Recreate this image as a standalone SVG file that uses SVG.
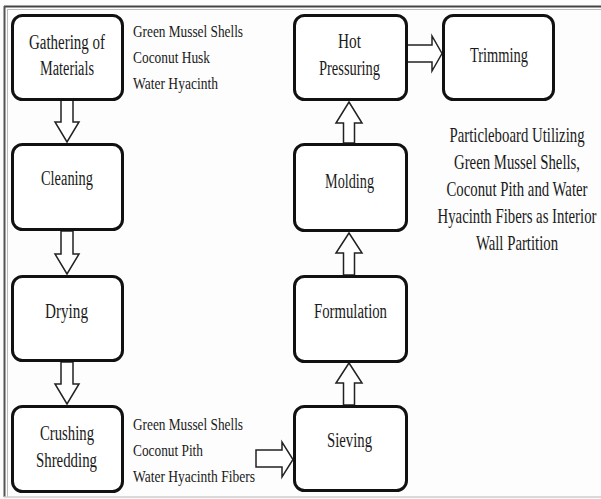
<svg xmlns="http://www.w3.org/2000/svg" width="601" height="499" viewBox="0 0 601 499">
<style>
.box{fill:#fff;stroke:#111;stroke-width:3}
.arr{fill:#fff;stroke:#222;stroke-width:1.5;stroke-linejoin:miter}
text{font-family:"Liberation Serif","Times New Roman",serif;fill:#1a1a1a}
.lb{font-size:20px}
.sd{font-size:16px}
.cp{font-size:20px;text-anchor:middle}
</style>
<rect x="0" y="0" width="601" height="499" fill="#fdfdfd"/>
<g id="frame">
<line x1="4" y1="6.5" x2="601" y2="6.5" stroke="#444" stroke-width="2"/>
<line x1="7" y1="9.5" x2="601" y2="9.5" stroke="#bbb" stroke-width="1"/>
<line x1="4.5" y1="6" x2="4.5" y2="497" stroke="#555" stroke-width="2"/>
<line x1="7.5" y1="9" x2="7.5" y2="497" stroke="#bbb" stroke-width="1"/>
<line x1="4" y1="497" x2="601" y2="497" stroke="#ccc" stroke-width="1.5"/>
</g>
<g id="connectors">
<polygon class="arr" points="61,100 73,100 73,122 79,122 67,142 55,122 61,122"/>
<polygon class="arr" points="61,231 73,231 73,254 79,254 67,274 55,254 61,254"/>
<polygon class="arr" points="61,362 73,362 73,384 79,384 67,404 55,384 61,384"/>
<polygon class="arr" points="256,450 282,450 282,442 293,459.5 282,477 282,467 256,467"/>
<polygon class="arr" points="343.5,405 354.5,405 354.5,383 362,383 349,363 336,383 343.5,383"/>
<polygon class="arr" points="343.5,275 354.5,275 354.5,253 362,253 349,233 336,253 343.5,253"/>
<polygon class="arr" points="343.5,143 354.5,143 354.5,123 362,123 349,102 336,123 343.5,123"/>
<polygon class="arr" points="407,45 432,45 432,36 442,53.5 432,71 432,62 407,62"/>
</g>
<g id="gathering">
<rect class="box" x="12.5" y="15.5" width="110" height="84" rx="10"/>
<text class="lb" x="29" y="49" textLength="76" lengthAdjust="spacingAndGlyphs">Gathering of</text>
<text class="lb" x="40" y="75" textLength="54" lengthAdjust="spacingAndGlyphs">Materials</text>
</g>
<g id="materials1">
<text class="sd" x="133" y="37" textLength="110" lengthAdjust="spacingAndGlyphs">Green Mussel Shells</text>
<text class="sd" x="133" y="63" textLength="77" lengthAdjust="spacingAndGlyphs">Coconut Husk</text>
<text class="sd" x="133" y="89" textLength="85" lengthAdjust="spacingAndGlyphs">Water Hyacinth</text>
</g>
<g id="cleaning">
<rect class="box" x="12.5" y="144.5" width="110" height="85" rx="10"/>
<text class="lb" x="41" y="185" textLength="52" lengthAdjust="spacingAndGlyphs">Cleaning</text>
</g>
<g id="drying">
<rect class="box" x="12.5" y="276.5" width="110" height="84" rx="10"/>
<text class="lb" x="45" y="318" textLength="43" lengthAdjust="spacingAndGlyphs">Drying</text>
</g>
<g id="crushing">
<rect class="box" x="12.5" y="406.5" width="110" height="85" rx="10"/>
<text class="lb" x="40" y="440" textLength="54" lengthAdjust="spacingAndGlyphs">Crushing</text>
<text class="lb" x="36" y="467" textLength="61" lengthAdjust="spacingAndGlyphs">Shredding</text>
</g>
<g id="materials2">
<text class="sd" x="133" y="430" textLength="110" lengthAdjust="spacingAndGlyphs">Green Mussel Shells</text>
<text class="sd" x="133" y="456" textLength="70" lengthAdjust="spacingAndGlyphs">Coconut Pith</text>
<text class="sd" x="133" y="482" textLength="122" lengthAdjust="spacingAndGlyphs">Water Hyacinth Fibers</text>
</g>
<g id="sieving">
<rect class="box" x="294.5" y="406.5" width="112" height="84" rx="10"/>
<text class="lb" x="327" y="447" textLength="45" lengthAdjust="spacingAndGlyphs">Sieving</text>
</g>
<g id="formulation">
<rect class="box" x="294.5" y="276.5" width="112" height="85" rx="10"/>
<text class="lb" x="314" y="318" textLength="73" lengthAdjust="spacingAndGlyphs">Formulation</text>
</g>
<g id="molding">
<rect class="box" x="294.5" y="144.5" width="112" height="86" rx="10"/>
<text class="lb" x="325" y="188" textLength="49" lengthAdjust="spacingAndGlyphs">Molding</text>
</g>
<g id="hotpressuring">
<rect class="box" x="294.5" y="15.5" width="112" height="84" rx="10"/>
<text class="lb" x="338" y="48" textLength="23" lengthAdjust="spacingAndGlyphs">Hot</text>
<text class="lb" x="319" y="75" textLength="61" lengthAdjust="spacingAndGlyphs">Pressuring</text>
</g>
<g id="trimming">
<rect class="box" x="443.5" y="15.5" width="110" height="84" rx="10"/>
<text class="lb" x="470" y="62" textLength="58" lengthAdjust="spacingAndGlyphs">Trimming</text>
</g>
<g id="caption" transform="translate(517 0) scale(0.74 1)">
<text class="cp" x="0" y="142">Particleboard Utilizing</text>
<text class="cp" x="0" y="169">Green Mussel Shells,</text>
<text class="cp" x="0" y="196">Coconut Pith and Water</text>
<text class="cp" x="0" y="223">Hyacinth Fibers as Interior</text>
<text class="cp" x="0" y="250">Wall Partition</text>
</g>
</svg>
